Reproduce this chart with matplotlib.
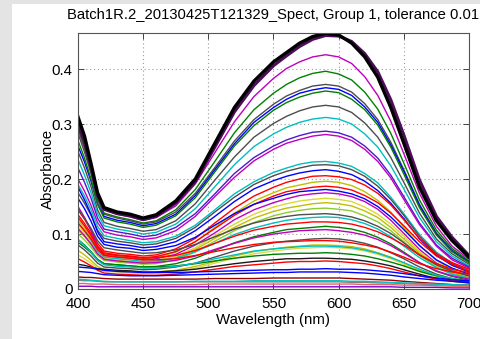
import matplotlib
matplotlib.use('Agg')
import matplotlib.pyplot as plt
from matplotlib.patches import Rectangle

plt.rcParams['font.family'] = ['Liberation Sans', 'DejaVu Sans']

wavelength = [400, 405, 410, 415, 420, 430, 440, 450, 460, 475, 490, 505, 520, 535, 550,
              560, 570, 580, 590, 600, 610, 620, 630, 640, 650, 662, 675, 687, 700]

# absorbance spectra, one row per sample (thin lines)
absorbance = [
    [.290, .256, .217, .170, .144, .136, .131, .125, .130, .151, .191, .248, .304, .350, .383, .401, .413, .422, .426, .422, .410, .386, .352, .305, .246, .174, .114, .078, .054],
    [.294, .258, .216, .166, .138, .131, .126, .120, .124, .144, .181, .232, .284, .326, .356, .372, .384, .392, .396, .391, .380, .358, .327, .283, .229, .162, .107, .074, .051],
    [.283, .249, .210, .162, .136, .129, .124, .118, .122, .140, .174, .221, .269, .308, .336, .351, .361, .369, .372, .369, .358, .337, .308, .267, .217, .154, .102, .071, .049],
    [.260, .231, .196, .155, .132, .125, .121, .115, .119, .136, .170, .217, .264, .303, .330, .345, .356, .362, .366, .363, .352, .331, .303, .262, .214, .152, .100, .069, .049],
    [.270, .238, .200, .154, .129, .122, .118, .112, .116, .133, .166, .213, .260, .297, .325, .339, .349, .356, .360, .357, .345, .326, .298, .258, .209, .148, .098, .068, .048],
    [.250, .220, .186, .144, .121, .114, .110, .105, .108, .124, .155, .198, .240, .276, .301, .314, .324, .331, .334, .331, .321, .302, .276, .239, .194, .138, .091, .064, .045],
    [.235, .207, .175, .137, .115, .109, .105, .100, .103, .118, .146, .186, .226, .259, .282, .294, .303, .309, .312, .309, .300, .282, .258, .224, .182, .130, .086, .060, .042],
    [.220, .194, .165, .129, .109, .104, .100, .095, .098, .112, .137, .173, .210, .239, .260, .271, .279, .285, .287, .284, .276, .260, .238, .207, .168, .120, .080, .056, .040],
    [.200, .178, .152, .121, .104, .098, .095, .090, .093, .106, .132, .168, .203, .233, .254, .265, .272, .278, .281, .278, .270, .254, .232, .202, .163, .117, .078, .053, .038],
    [.190, .169, .144, .114, .097, .092, .088, .084, .086, .096, .116, .144, .173, .195, .212, .220, .227, .231, .232, .229, .223, .210, .193, .167, .137, .099, .067, .047, .034],
    [.175, .156, .134, .107, .092, .087, .084, .080, .082, .092, .112, .140, .167, .190, .206, .214, .220, .225, .226, .224, .217, .205, .187, .163, .134, .096, .064, .046, .032],
    [.185, .162, .136, .104, .086, .082, .079, .075, .077, .086, .106, .132, .159, .182, .197, .205, .211, .215, .217, .214, .208, .196, .179, .156, .128, .091, .061, .043, .031],
    [.144, .127, .107, .083, .069, .065, .063, .060, .062, .073, .092, .120, .147, .169, .185, .194, .200, .205, .206, .204, .199, .189, .174, .153, .126, .092, .064, .048, .036],
    [.125, .111, .094, .074, .063, .060, .058, .055, .057, .067, .086, .112, .138, .160, .175, .184, .189, .194, .196, .194, .188, .177, .161, .140, .112, .079, .052, .035, .024],
    [.135, .119, .101, .078, .066, .062, .060, .057, .059, .068, .086, .110, .134, .154, .169, .177, .181, .185, .187, .185, .180, .170, .157, .138, .115, .086, .060, .045, .032],
    [.165, .146, .123, .096, .081, .076, .074, .070, .072, .079, .094, .116, .137, .154, .165, .172, .177, .179, .181, .178, .173, .164, .150, .131, .108, .079, .053, .038, .027],
    [.150, .130, .106, .077, .061, .058, .056, .053, .055, .063, .080, .102, .126, .144, .157, .164, .170, .173, .175, .173, .168, .159, .145, .125, .101, .072, .047, .033, .023],
    [.115, .102, .086, .068, .058, .055, .053, .050, .052, .060, .075, .097, .118, .136, .149, .155, .160, .163, .165, .163, .159, .149, .136, .118, .096, .068, .045, .031, .021],
    [.107, .095, .081, .064, .055, .052, .050, .048, .049, .057, .072, .092, .112, .129, .141, .147, .151, .155, .157, .155, .151, .142, .130, .112, .091, .065, .043, .029, .021],
    [.100, .089, .076, .061, .052, .049, .047, .045, .046, .053, .067, .087, .106, .121, .133, .139, .143, .146, .147, .145, .142, .133, .122, .106, .086, .061, .040, .027, .020],
    [.145, .129, .110, .088, .075, .071, .068, .065, .066, .071, .081, .095, .109, .120, .128, .132, .135, .136, .137, .135, .131, .124, .114, .101, .084, .062, .044, .032, .024],
    [.120, .106, .089, .069, .058, .055, .053, .050, .051, .056, .068, .083, .099, .111, .120, .125, .128, .130, .131, .130, .126, .119, .109, .095, .078, .057, .039, .027, .020],
    [.130, .115, .097, .076, .064, .061, .059, .056, .057, .061, .070, .083, .096, .107, .114, .118, .120, .122, .122, .121, .118, .112, .104, .093, .080, .062, .046, .036, .030],
    [.090, .080, .068, .054, .046, .044, .042, .040, .041, .046, .056, .070, .084, .095, .103, .108, .110, .112, .114, .112, .109, .103, .094, .082, .067, .048, .032, .023, .016],
    [.110, .097, .082, .064, .054, .051, .049, .047, .048, .052, .060, .072, .083, .093, .100, .103, .106, .107, .108, .106, .103, .098, .090, .079, .065, .048, .033, .024, .018],
    [.080, .071, .060, .047, .040, .038, .037, .035, .036, .040, .047, .058, .069, .078, .084, .087, .089, .091, .092, .091, .088, .083, .076, .066, .055, .040, .027, .019, .014],
    [.120, .106, .091, .072, .061, .058, .056, .053, .053, .055, .061, .068, .075, .081, .085, .086, .087, .088, .088, .087, .084, .080, .075, .067, .058, .046, .037, .031, .027],
    [.070, .062, .052, .041, .035, .033, .032, .030, .031, .034, .041, .050, .060, .068, .073, .076, .078, .080, .080, .079, .077, .073, .066, .058, .047, .034, .023, .017, .012],
    [.062, .055, .047, .037, .032, .031, .029, .028, .029, .032, .038, .047, .056, .064, .069, .072, .074, .075, .076, .075, .073, .069, .063, .055, .045, .032, .022, .016, .011],
    [.085, .076, .066, .053, .046, .044, .042, .040, .040, .042, .046, .051, .056, .060, .063, .064, .065, .065, .066, .065, .063, .060, .055, .049, .042, .032, .024, .018, .014],
    [.090, .079, .067, .052, .044, .041, .040, .038, .038, .041, .047, .055, .062, .069, .073, .075, .077, .078, .078, .077, .075, .071, .065, .057, .048, .036, .025, .019, .014],
    [.045, .043, .040, .037, .036, .034, .033, .031, .031, .033, .036, .041, .046, .050, .053, .055, .055, .056, .056, .055, .054, .051, .047, .042, .035, .027, .019, .014, .011],
    [.055, .049, .042, .034, .029, .027, .026, .025, .025, .027, .031, .036, .041, .044, .047, .049, .050, .050, .051, .050, .048, .046, .042, .037, .031, .024, .018, .015, .013],
    [.040, .039, .038, .036, .034, .032, .031, .030, .030, .030, .031, .032, .033, .034, .035, .035, .036, .036, .037, .036, .036, .035, .033, .031, .028, .024, .020, .017, .015],
    [.032, .031, .030, .028, .026, .025, .024, .024, .024, .025, .026, .027, .028, .029, .030, .030, .031, .031, .031, .031, .030, .029, .027, .025, .022, .019, .016, .014, .012],
    [.022, .021, .021, .020, .019, .018, .018, .018, .018, .018, .018, .019, .019, .019, .020, .020, .020, .020, .020, .020, .019, .018, .017, .016, .014, .012, .010, .008, .007],
    [.016, .015, .015, .014, .013, .013, .013, .013, .013, .013, .013, .013, .013, .013, .013, .013, .013, .013, .013, .013, .012, .012, .011, .011, .010, .009, .008, .007, .006],
    [.018, .017, .016, .015, .014, .013, .013, .013, .013, .013, .014, .014, .014, .015, .015, .015, .015, .015, .015, .015, .014, .014, .013, .012, .011, .010, .009, .008, .007],
    [.010, .010, .009, .009, .009, .008, .008, .008, .008, .008, .008, .009, .009, .009, .009, .009, .009, .009, .009, .009, .009, .008, .008, .008, .007, .007, .006, .005, .005],
    [.005, .005, .005, .004, .004, .004, .004, .004, .004, .004, .004, .004, .004, .004, .004, .004, .004, .004, .004, .004, .004, .004, .004, .004, .003, .003, .003, .002, .002],
]

# the two thick spectra drawn on top
purple_spectrum = [.300, .267, .220, .170, .145, .137, .133, .126, .132, .156, .195, .258, .322, .370, .406,
                   .424, .441, .454, .461, .460, .450, .428, .395, .344, .280, .198, .132, .094, .061]
black_spectrum = [.313, .278, .228, .175, .148, .140, .136, .129, .135, .160, .200, .265, .330, .378, .413,
                  .430, .447, .459, .465, .462, .447, .422, .385, .330, .265, .185, .124, .088, .058]

title = 'Batch1R.2_20130425T121329_Spect, Group 1, tolerance 0.01'
x_ticks = [400, 450, 500, 550, 600, 650, 700]
y_ticks = [0, 0.1, 0.2, 0.3, 0.4]
y_tick_labels = ['0', '0.1', '0.2', '0.3', '0.4']

# MATLAB-ish line colours
B, G, R, C, M, Y, K = (0, 0, 1), (0, 0.5, 0), (1, 0, 0), (0, 0.75, 0.75), (0.75, 0, 0.75), (0.75, 0.75, 0), (0.3, 0.3, 0.3)
colors = [M, G, K, B, G, K, C, (0.3, 0.1, 0.8), M, C, K, B, R, Y, R, B, M, (0.85, 0.85, 0.2),
          Y, (0.55, 0.8, 0.2), K, C, R, G, M, K, R, Y, (0.85, 0.85, 0.3), G, C, (0.1, 0.1, 0.1),
          R, B, B, (0.6, 0, 0), (0.5, 0.5, 0.5), C, (0.9, 0.4, 0.4), (0.5, 0, 0.8)]

fig = plt.figure(figsize=(4.81, 3.39), dpi=100, facecolor='#e4e4e4')
fig.patches.append(Rectangle((12 / 481, 0), 1, 1 - 4 / 339, transform=fig.transFigure,
                             facecolor='white', edgecolor='none', zorder=-10))

ax = fig.add_axes([78 / 481, 50 / 339, 391 / 481, 256 / 339])

for spec, col in zip(absorbance, colors):
    ax.plot(wavelength, spec, color=col, lw=1.0)
ax.plot(wavelength, purple_spectrum, color=(0.3, 0.05, 0.35), lw=2.2)
ax.plot(wavelength, black_spectrum, color='black', lw=2.4)

ax.set_xlim(400, 700)
ax.set_ylim(0, 0.4655)
ax.set_xticks(x_ticks)
ax.set_yticks(y_ticks)
ax.set_yticklabels(y_tick_labels)
ax.tick_params(direction='in', top=True, right=True, length=4, width=0.7,
               labelsize=10.8, color='#444444')
ax.tick_params(axis='x', pad=6)
ax.tick_params(axis='y', pad=4)
ax.grid(True, linestyle=(0, (1, 2.5)), color='#999999', lw=0.8)
for sp in ax.spines.values():
    sp.set_color('#555555')
    sp.set_linewidth(0.8)

ax.set_title(title, fontsize=10.6, pad=10)
ax.set_xlabel('Wavelength (nm)', fontsize=10.8, labelpad=1)
ax.set_ylabel('Absorbance', fontsize=10.8, va='center')
ax.yaxis.set_label_coords(-0.077, 0.47)

fig.savefig('out.png', dpi=100, facecolor=fig.get_facecolor())
